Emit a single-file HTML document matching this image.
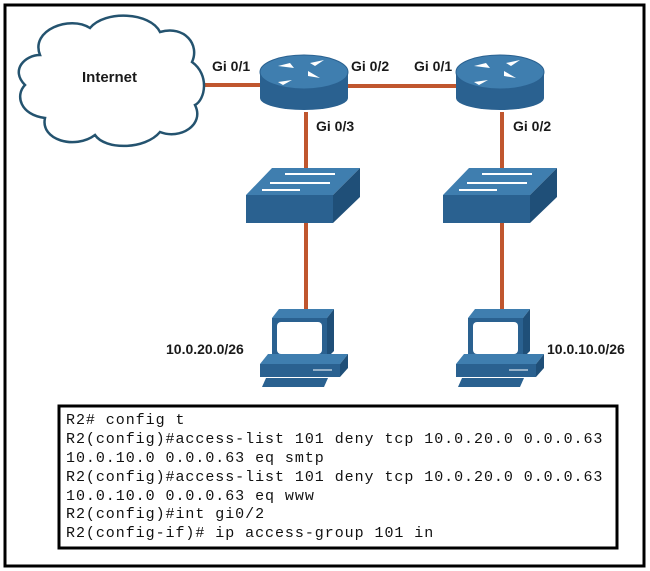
<!DOCTYPE html>
<html><head><style>
html,body{margin:0;padding:0;background:#fff;width:650px;height:571px;overflow:hidden}
</style></head><body>
<svg width="650" height="571" viewBox="0 0 650 571" xmlns="http://www.w3.org/2000/svg" font-family="Liberation Sans, Arial, sans-serif">
<rect x="5" y="5" width="639" height="561" fill="#fff" stroke="#000" stroke-width="3"/>
<g stroke="#c0562e" stroke-width="4">
<line x1="200" y1="85" x2="262" y2="85"/>
<line x1="346" y1="86" x2="458" y2="86"/>
<line x1="306" y1="112" x2="306" y2="170"/>
<line x1="502" y1="112" x2="502" y2="170"/>
<line x1="306" y1="222" x2="306" y2="312"/>
<line x1="502" y1="222" x2="502" y2="312"/>
</g>
<path d="M40,55 C30,30 70,15 90,28 C105,10 150,12 160,32 C185,25 200,45 192,62 C210,75 205,100 195,105 C205,125 180,140 160,132 C145,150 105,150 95,135 C75,150 40,140 45,118 C20,115 15,95 25,85 C10,70 25,55 40,55 Z" fill="#fff" stroke="#24536f" stroke-width="2.5"/>
<text x="82" y="82" font-size="15" font-weight="bold" fill="#1a1a1a">Internet</text>
<path d="M260,72 L260,98 A44,12 0 0 0 348,98 L348,72 Z" fill="#2a6190"/>
<ellipse cx="304" cy="72" rx="44" ry="17" fill="#3f7eaf" stroke="#2a6190"/>
<g fill="#fff"><path d="M278,66 l16,2 -4,-5z M324,60 l-14,3 5,3z M320,78 l-12,-7 0,5z M292,80 l-14,2 5,3z"/></g>
<path d="M456,72 L456,98 A44,12 0 0 0 544,98 L544,72 Z" fill="#2a6190"/>
<ellipse cx="500" cy="72" rx="44" ry="17" fill="#3f7eaf" stroke="#2a6190"/>
<g fill="#fff"><path d="M474,66 l16,2 -4,-5z M520,60 l-14,3 5,3z M516,78 l-12,-7 0,5z M488,80 l-14,2 5,3z"/></g>
<g>
<path d="M246,195 L272,168 L360,168 L333,195 Z" fill="#3f7eaf"/>
<rect x="246" y="195" width="87" height="28" fill="#2a6190"/>
<path d="M333,195 L360,168 L360,197 L333,223 Z" fill="#1f4f78"/>
<g stroke="#fff" stroke-width="2"><line x1="285" y1="174" x2="335" y2="174"/><line x1="270" y1="183" x2="330" y2="183"/><line x1="262" y1="190" x2="300" y2="190"/></g>
</g>
<g>
<path d="M443,195 L469,168 L557,168 L530,195 Z" fill="#3f7eaf"/>
<rect x="443" y="195" width="87" height="28" fill="#2a6190"/>
<path d="M530,195 L557,168 L557,197 L530,223 Z" fill="#1f4f78"/>
<g stroke="#fff" stroke-width="2"><line x1="482" y1="174" x2="532" y2="174"/><line x1="467" y1="183" x2="527" y2="183"/><line x1="459" y1="190" x2="497" y2="190"/></g>
</g>
<g id="pc">
<path d="M272,318 L279,309 L334,309 L327,318 Z" fill="#3f7eaf"/>
<rect x="272" y="318" width="55" height="40" fill="#2a6190"/>
<path d="M327,318 L334,309 L334,351 L327,358Z" fill="#1f4f78"/>
<rect x="277" y="322" width="45" height="32" rx="4" fill="#fff"/>
<path d="M260,364 L268,354 L348,354 L340,364 Z" fill="#3f7eaf"/>
<rect x="260" y="364" width="80" height="13" fill="#2a6190"/>
<path d="M340,364 L348,354 L348,368 L340,377Z" fill="#1f4f78"/>
<line x1="313" y1="370" x2="332" y2="370" stroke="#fff"/>
<path d="M262,387 L266,378 L328,378 L324,387 Z" fill="#2a6190"/>
</g>
<g transform="translate(196,0)">
<path d="M272,318 L279,309 L334,309 L327,318 Z" fill="#3f7eaf"/>
<rect x="272" y="318" width="55" height="40" fill="#2a6190"/>
<path d="M327,318 L334,309 L334,351 L327,358Z" fill="#1f4f78"/>
<rect x="277" y="322" width="45" height="32" rx="4" fill="#fff"/>
<path d="M260,364 L268,354 L348,354 L340,364 Z" fill="#3f7eaf"/>
<rect x="260" y="364" width="80" height="13" fill="#2a6190"/>
<path d="M340,364 L348,354 L348,368 L340,377Z" fill="#1f4f78"/>
<line x1="313" y1="370" x2="332" y2="370" stroke="#fff"/>
<path d="M262,387 L266,378 L328,378 L324,387 Z" fill="#2a6190"/>
</g>
<g font-size="14" font-weight="bold" fill="#1a1a1a">
<text x="212" y="71">Gi 0/1</text>
<text x="351" y="71">Gi 0/2</text>
<text x="414" y="71">Gi 0/1</text>
<text x="316" y="131">Gi 0/3</text>
<text x="513" y="131">Gi 0/2</text>
<text x="166" y="354">10.0.20.0/26</text>
<text x="547" y="354">10.0.10.0/26</text>
</g>
<rect x="59" y="406" width="558" height="142" fill="#fff" stroke="#000" stroke-width="3"/>
<g font-family="Liberation Mono, Courier New, monospace" font-size="15" letter-spacing="0.95" fill="#111">
<text x="66" y="424">R2# config t</text>
<text x="66" y="443">R2(config)#access-list 101 deny tcp 10.0.20.0 0.0.0.63</text>
<text x="66" y="462">10.0.10.0 0.0.0.63 eq smtp</text>
<text x="66" y="481">R2(config)#access-list 101 deny tcp 10.0.20.0 0.0.0.63</text>
<text x="66" y="500">10.0.10.0 0.0.0.63 eq www</text>
<text x="66" y="518">R2(config)#int gi0/2</text>
<text x="66" y="537">R2(config-if)# ip access-group 101 in</text>
</g>
</svg>
</body></html>
